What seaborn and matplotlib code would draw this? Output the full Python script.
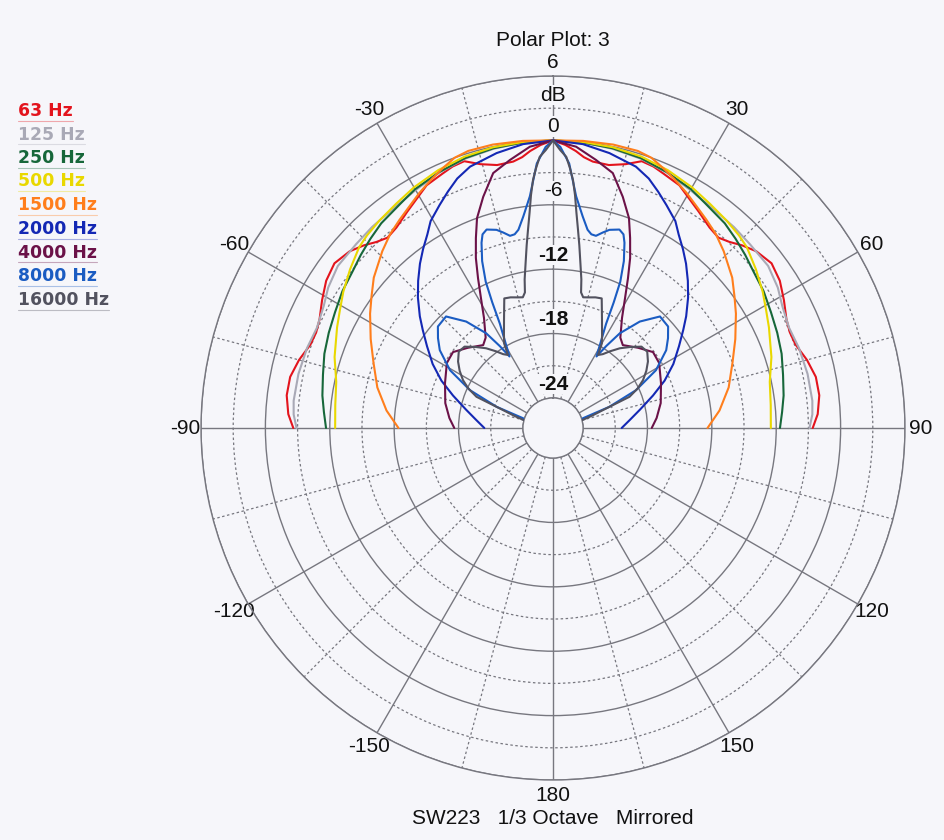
import numpy as np
import pandas as pd
import matplotlib
matplotlib.use("Agg")
import matplotlib.pyplot as plt
from matplotlib.lines import Line2D
import seaborn as sns

# ---------------- data (one half, mirrored) ----------------
freqs = ["63 Hz", "125 Hz", "250 Hz", "500 Hz", "1500 Hz", "2000 Hz", "4000 Hz", "8000 Hz", "16000 Hz"]
colors = ["#e3141d", "#a9a9b6", "#17673a", "#e9d800", "#ff7e1c", "#1428b4", "#6b1248", "#1b5cc2", "#52525f"]

ang_63 = [0, 2.5, 4.7, 6.5, 8.5, 12, 15.4, 18.4, 21, 23.4, 27.5, 31, 34, 38, 41, 43.5, 46, 49, 53, 57, 61, 65, 68, 71, 75, 79, 83, 87, 90]
db_63 = [0, -0.4, -0.9, -1.4, -1.7, -1.75, -1.3, -0.6, -0.7, -0.95, -1.3, -2.0, -2.5, -3.1, -3.3, -2.9, -2.3, -1.7, -1.3, -1.6, -2.2, -2.8, -3.0, -2.9, -2.3, -1.85, -1.8, -2.1, -2.6]

ang_125 = [0, 6, 12, 18, 24, 30, 36, 42, 47, 53, 58, 62, 67, 72, 78, 84, 87, 90]
db_125 = [0, -0.05, -0.2, -0.4, -0.75, -1.2, -1.5, -1.6, -1.7, -1.7, -2.1, -2.6, -2.9, -2.7, -2.55, -2.5, -2.6, -2.9]

ang_250 = [0, 6, 12, 18, 24, 30, 34, 40, 44, 48, 52, 57, 62, 67, 72, 77, 82, 86, 90]
db_250 = [0, -0.05, -0.15, -0.35, -0.7, -1.1, -1.5, -1.9, -2.3, -2.7, -3.1, -3.4, -3.8, -4.1, -4.4, -4.8, -5.1, -5.4, -5.65]

ang_500 = [0, 6, 12, 18, 24, 30, 35, 40, 44, 47, 52, 57, 61, 65, 72, 78, 84, 90]
db_500 = [0, 0, -0.05, -0.2, -0.5, -0.9, -1.3, -1.6, -1.85, -2.1, -2.8, -3.5, -4.1, -4.6, -5.4, -6.15, -6.4, -6.5]

ang_1500 = [0, 6, 12, 17, 20, 23, 26, 29.6, 33, 36.4, 40, 44, 50, 54, 58, 64, 70, 77, 84, 90]
db_1500 = [0, 0.1, 0.2, 0.2, 0, -0.5, -1.0, -1.6, -2.2, -2.7, -3.2, -3.9, -5.0, -5.9, -6.7, -7.9, -9.0, -10.0, -11.2, -12.4]

ang_2000 = [0, 6, 11.6, 17.6, 21, 24, 27, 30.6, 33, 36, 39, 42.5, 46, 50, 53, 57, 62, 67, 72, 78, 84, 90]
db_2000 = [0, -0.2, -0.65, -1.25, -1.9, -2.7, -3.5, -4.4, -5.3, -6.2, -7.1, -8.2, -9.3, -10.6, -11.6, -12.8, -14.1, -15.5, -17.0, -18.5, -19.6, -20.4]

ang_4000 = [0, 4.7, 9.1, 13.2, 16.8, 19.9, 22.1, 24.4, 26.6, 29, 32.1, 36.7, 40.1, 46.7, 52.8, 58.5, 67.4, 77, 84.5, 90]
db_4000 = [0, -0.5, -1.5, -2.4, -4.3, -6.0, -7.7, -9.4, -11.2, -12.95, -14.7, -16.3, -16.7, -15.9, -15.1, -15.2, -15.9, -16.5, -17.1, -17.6]

ang_8000 = [0, 1.5, 3.5, 5.7, 8, 9.9, 11.2, 12.6, 14.3, 15.9, 18.5, 20, 21.1, 23, 24.7, 25.8, 27, 29, 31.3, 33, 35.2, 39.2, 43.8, 48.6, 52, 55.5, 60.7, 65.5, 69.4, 72]
db_8000 = [0, -0.6, -2.1, -5.1, -6.9, -8.05, -8.4, -8.45, -8.0, -7.6, -7.3, -7.6, -8.3, -9.9, -11.8, -13.8, -15.9, -17.6, -19.0, -17.7, -16.0, -14.0, -12.4, -12.5, -13.2, -14.0, -15.8, -18.3, -21.2, -23.9]

ang_16000 = [0, 1.5, 2.8, 3.7, 4.6, 5.4, 6.2, 7.2, 8.2, 9.5, 10.8, 11.7, 13, 15, 18, 20.6, 21.7, 24.4, 27.8, 30, 31.7, 34, 36.6, 40, 43.5, 47.4, 51, 55, 58.5, 62, 65, 67.8, 70.2, 72.5, 75]
db_16000 = [0, -0.9, -1.5, -2.5, -3.6, -5.0, -6.6, -8.2, -9.6, -11.3, -12.7, -13.9, -14.3, -14.2, -14.0, -13.9, -14.5, -15.75, -17.0, -17.7, -18.8, -18.5, -17.9, -17.1, -16.4, -15.6, -15.5, -16.0, -16.6, -17.3, -18.1, -19.1, -21.8, -23.0, -24.0]

angles = [ang_63, ang_125, ang_250, ang_500, ang_1500, ang_2000, ang_4000, ang_8000, ang_16000]
levels = [db_63, db_125, db_250, db_500, db_1500, db_2000, db_4000, db_8000, db_16000]

theta_labels = {30: "30", 60: "60", 90: "90", 120: "120", 150: "150", 180: "180",
                210: "-150", 240: "-120", 270: "-90", 300: "-60", 330: "-30"}
r_labels = ["6", "0", "-6", "-12", "-18", "-24"]
r_values = [6, 0, -6, -12, -18, -24]

# ---------------- build long table (mirrored) ----------------
rows = []
for f, a, d in zip(freqs, angles, levels):
    a = np.asarray(a, float)
    d = np.asarray(d, float)
    th = np.concatenate([-a[::-1], a[1:]])
    rr = np.concatenate([d[::-1], d[1:]])
    for k, (t, r) in enumerate(zip(th, rr)):
        rows.append({"freq": f, "order": k, "theta": np.deg2rad(t), "db": r})
df = pd.DataFrame(rows)

# ---------------- styling ----------------
sns.set_theme(style="white")
plt.rcParams["font.family"] = ["Liberation Sans", "DejaVu Sans"]
BG = "#f6f6fa"
GRID = "#77777f"

W, H = 944, 840
fig = plt.figure(figsize=(W / 100, H / 100), dpi=100, facecolor=BG)
cx, cy, R = 553, 428, 352
ax = fig.add_axes([(cx - R) / W, (H - cy - R) / H, 2 * R / W, 2 * R / H], projection="polar")
ax.set_facecolor(BG)
ax.set_theta_zero_location("N")
ax.set_theta_direction(-1)
ax.set_ylim(-24, 6)
ax.set_rorigin(-26.8)

sns.lineplot(data=df, x="theta", y="db", hue="freq", hue_order=freqs, palette=colors,
             units="freq", estimator=None, sort=False, linewidth=1.5, legend=False, ax=ax, zorder=3)
ax.set_xlabel("")
ax.set_ylabel("")

# radial grid
rt = np.arange(-24, 7, 3)
ax.set_yticks(rt)
ax.set_yticklabels([])
ax.grid(True)
for v, gl in zip(rt, ax.yaxis.get_gridlines()):
    if v % 6 == 0:
        gl.set(color=GRID, linewidth=1.0, linestyle="-")
    else:
        gl.set(color=GRID, linewidth=0.9, linestyle=(0, (2, 2)))

# angular grid
tt = np.arange(0, 360, 15)
ax.set_xticks(np.deg2rad(tt))
ax.set_xticklabels([theta_labels.get(int(t), "") for t in tt], fontsize=15, color="#111111")
ax.tick_params(axis="x", pad=-1.5)
for t, gl in zip(tt, ax.xaxis.get_gridlines()):
    if t % 30 == 0:
        gl.set(color=GRID, linewidth=1.0, linestyle="-")
    else:
        gl.set(color=GRID, linewidth=0.9, linestyle=(0, (2, 2)))

for sp in ax.spines.values():
    sp.set_color(GRID)
    sp.set_linewidth(1.0)

# radial labels along 0 deg
for lab, v in zip(r_labels, r_values):
    weight = "bold" if v in (-12, -18, -24) else "normal"
    ax.text(0, v + 1.3, lab, ha="center", va="center", fontsize=15, color="#111111",
            fontweight=weight, zorder=4,
            bbox=dict(facecolor=BG, edgecolor="none", pad=0.5))
ax.text(0, 4.2, "dB", ha="center", va="center", fontsize=15, color="#111111", zorder=4,
        bbox=dict(facecolor=BG, edgecolor="none", pad=0.5))

# titles
fig.text(cx / W, 1 - 40 / H, "Polar Plot: 3", ha="center", va="center", fontsize=15, color="#111111")
fig.text(cx / W, 1 - 818 / H, "SW223   1/3 Octave   Mirrored", ha="center", va="center",
         fontsize=15, color="#111111")

# legend as coloured text
ys = [111, 134.5, 158, 181.5, 205, 229, 252.5, 276, 300]
texts = []
for f, c, y in zip(freqs, colors, ys):
    t = fig.text(18 / W, 1 - y / H, f, ha="left", va="center", fontsize=12.4, fontweight="bold",
                 color=c, family=["DejaVu Sans"])
    texts.append((t, c, y))
fig.canvas.draw()
for t, c, y in texts:
    bb = t.get_window_extent()
    fig.add_artist(Line2D([bb.x0 / W, bb.x1 / W], [1 - (y + 9.5) / H] * 2, transform=fig.transFigure,
                          color=c, alpha=0.35, linewidth=0.8))

fig.savefig("out.png", dpi=100, facecolor=BG)
